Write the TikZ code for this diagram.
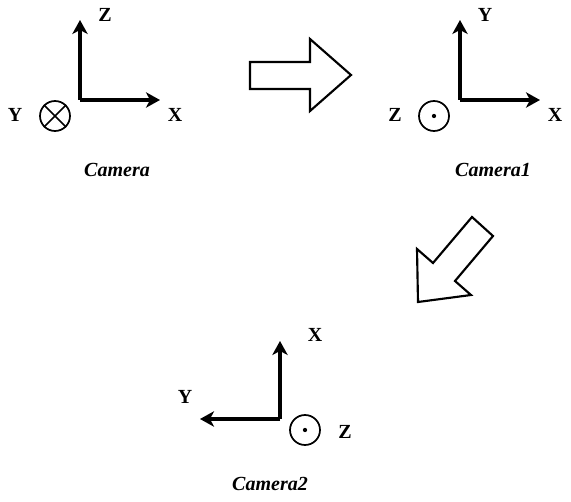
\documentclass[tikz,border=0pt]{standalone}
\usepackage{fontspec}
\setmainfont{Liberation Serif}
\usetikzlibrary{arrows.meta}
\begin{document}
\begin{tikzpicture}[x=0.75pt,y=-0.75pt,
  axis/.style={line width=2.6pt,-{Stealth[length=10.5pt,width=11.5pt,inset=3pt]}},
  lbl/.style={font=\fontsize{15}{18}\selectfont\bfseries,inner sep=0pt},
  camtitle/.style={font=\fontsize{15}{18}\selectfont\bfseries\itshape,inner sep=0pt},
  ring/.style={circle,draw,line width=1.3pt,minimum size=22.5pt,inner sep=0pt},
  bigarrow/.style={draw,line width=1.6pt,fill=white,line join=miter}]
\useasboundingbox (0,0) rectangle (571,502);
% Camera
\coordinate (o1) at (80,100);
\coordinate (z1) at (80,20);
\coordinate (x1) at (160,100);
\draw[axis] (o1) -- (z1);
\draw[axis] (o1) -- (x1);
\node[lbl] (lz1) at (105,15) {Z};
\node[lbl] (lx1) at (175,115) {X};
\node[lbl] (ly1) at (15,115) {Y};
\node[ring] (c1) at (55,116) {};
\draw[line width=1.3pt] (c1.north west) -- (c1.south east) (c1.north east) -- (c1.south west);
\node[camtitle] (t1) at (117,170) {Camera};
% Camera1
\coordinate (o2) at (460,100);
\coordinate (y2) at (460,20);
\coordinate (x2) at (540,100);
\draw[axis] (o2) -- (y2);
\draw[axis] (o2) -- (x2);
\node[lbl] (ly2) at (485,15) {Y};
\node[lbl] (lx2) at (555,115) {X};
\node[lbl] (lz2) at (395,115) {Z};
\node[ring] (c2) at (434,116) {};
\fill (c2.center) circle (1.6pt);
\node[camtitle] (t2) at (493,170) {Camera1};
% Camera2
\coordinate (o3) at (280,419);
\coordinate (x3) at (280,341);
\coordinate (y3) at (200,419);
\draw[axis] (o3) -- (x3);
\draw[axis] (o3) -- (y3);
\node[lbl] (lx3) at (315,335) {X};
\node[lbl] (ly3) at (185,397) {Y};
\node[lbl] (lz3) at (345,432) {Z};
\node[ring] (c3) at (305,430) {};
\fill (c3.center) circle (1.6pt);
\node[camtitle] (t3) at (270,484) {Camera2};
% big arrows
\draw[bigarrow] (250,62) -- (310,62) -- (310,39) -- (351,75) -- (310,111) -- (310,89) -- (250,89) -- cycle;
\draw[bigarrow] (472,217) -- (493,236) -- (455,281) -- (471,295) -- (418,302) -- (417,249) -- (433,263) -- cycle;
\end{tikzpicture}
\end{document}
